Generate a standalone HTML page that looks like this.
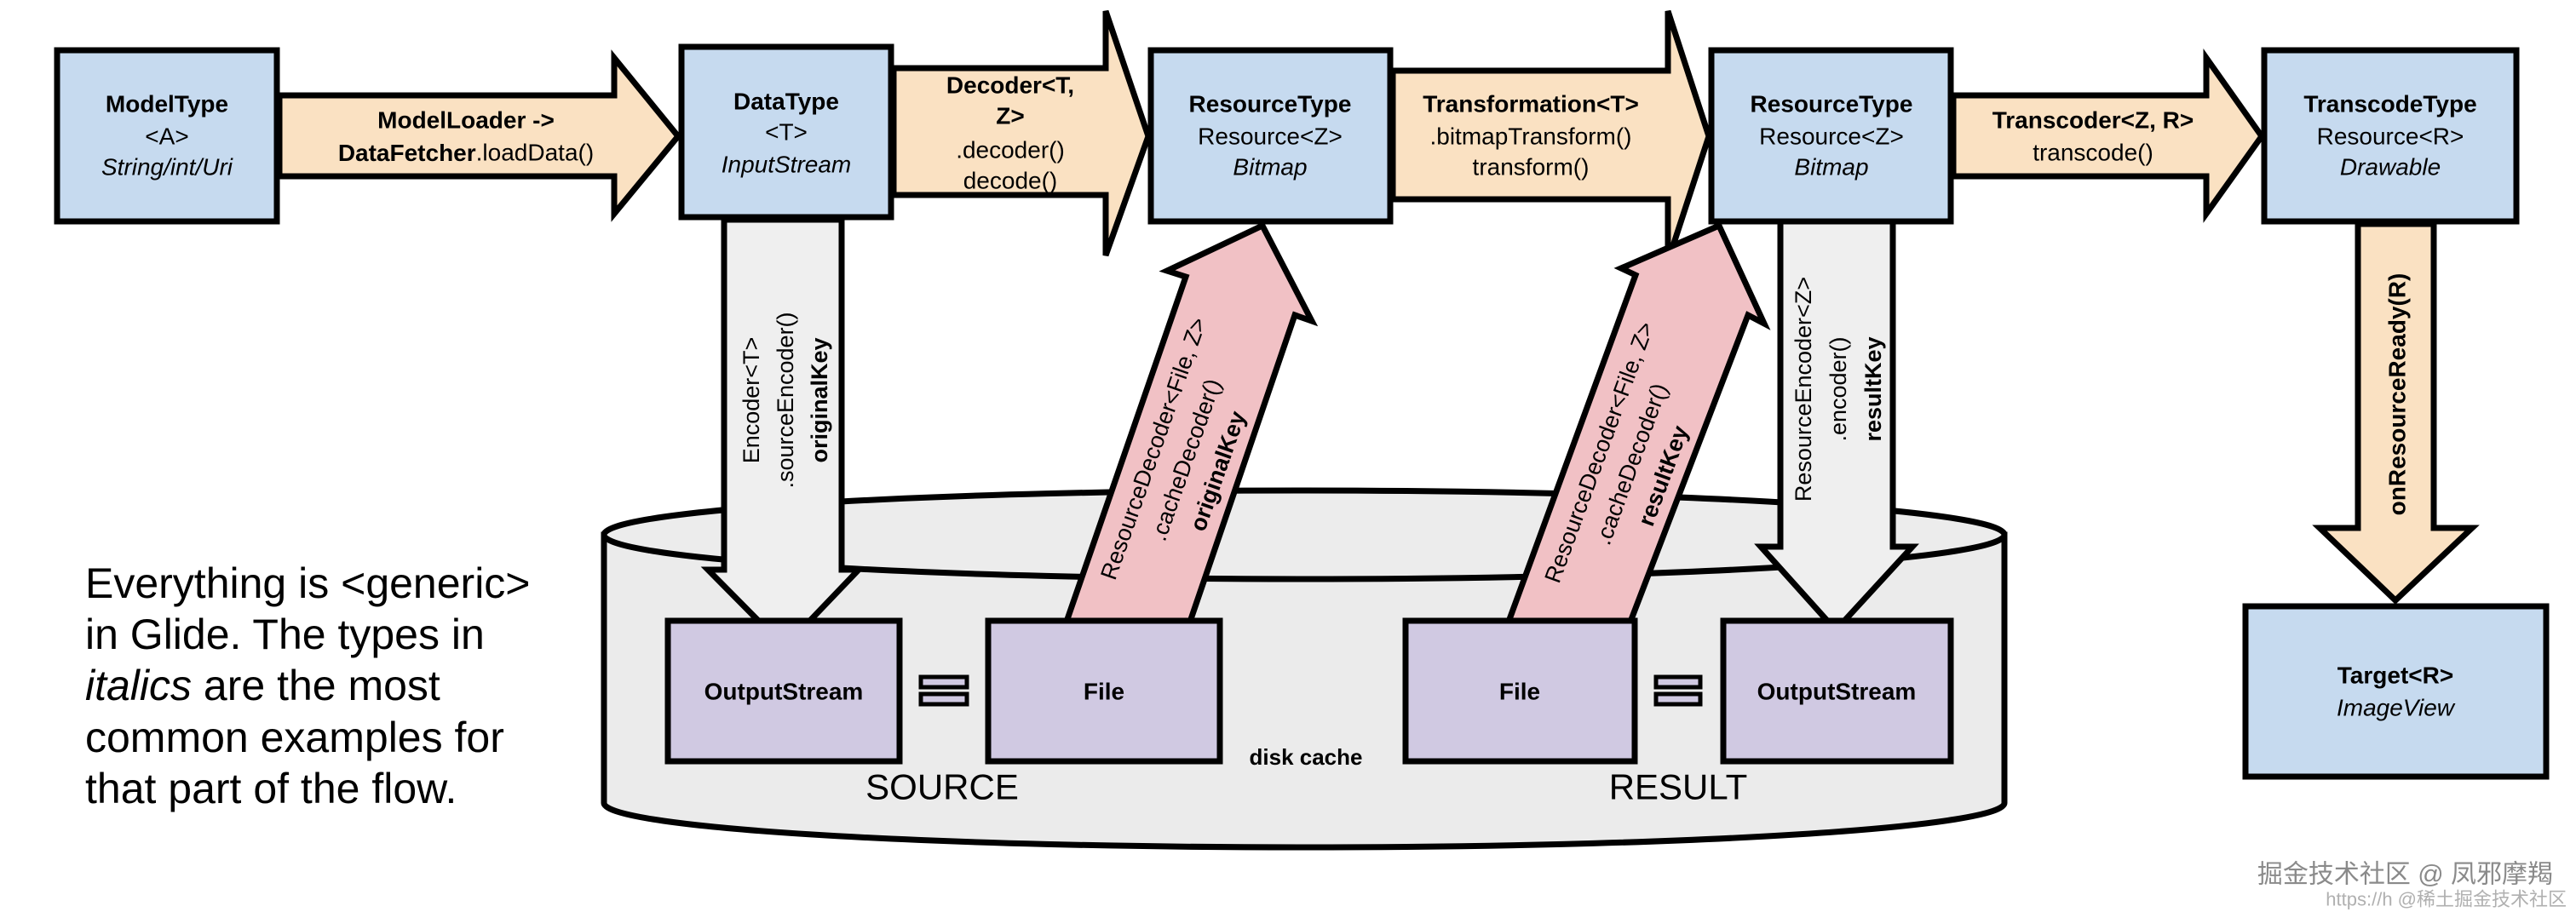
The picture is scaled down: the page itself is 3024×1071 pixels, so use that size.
<!DOCTYPE html>
<html><head><meta charset="utf-8"><style>
html,body{margin:0;padding:0;background:#fff;}
svg{display:block;}
text{font-family:"Liberation Sans",Arial,sans-serif;fill:#000;}
</style></head><body>
<svg width="3024" height="1071" viewBox="0 0 3024 1071" xmlns="http://www.w3.org/2000/svg">
<!-- cylinder -->
<path d="M709,628 L709,943 A822,52 0 0 0 2353,943 L2353,628 Z" fill="#ebebeb" stroke="#000" stroke-width="7"/>
<ellipse cx="1531" cy="628" rx="822" ry="52" fill="#ececec" stroke="#000" stroke-width="7"/>

<!-- horizontal arrows -->
<g stroke="#000" stroke-width="7" stroke-linejoin="miter" fill="#fae1c2">
<polygon points="328,112 721,112 721,68 796,160 721,251 721,207 328,207"/>
<polygon points="1049,80 1298,80 1298,13 1348,160 1298,300 1298,229 1049,229"/>
<polygon points="1635,83 1958,83 1958,13 2006,160 1958,307 1958,234 1635,234"/>
<polygon points="2293,112 2590,112 2590,68 2655,160 2590,251 2590,207 2293,207"/>
<polygon points="2768,263 2857,263 2857,620 2902,620 2812,705 2723,620 2768,620"/>
</g>
<!-- grey down arrows -->
<g stroke="#000" stroke-width="7" fill="#efefef">
<polygon points="850,258 988,258 988,669 1008,669 921,760 831,669 850,669"/>
<polygon points="2090,258 2222,258 2222,642 2245,642 2155,740 2067,642 2090,642"/>
</g>
<!-- pink arrows -->
<g stroke="#000" stroke-width="7" fill="#f1c1c5" stroke-linejoin="miter">
<polygon points="1252,730 1392,325 1370,318 1482,265 1540,377 1520,370 1397,730"/>
<polygon points="1771,730 1920,323 1903,315 2018,265 2071,380 2052,370 1914,730"/>
</g>

<!-- blue boxes -->
<g stroke="#000" stroke-width="7" fill="#c6daef">
<rect x="67" y="59" width="258" height="201"/>
<rect x="800" y="55" width="246" height="200"/>
<rect x="1351" y="59" width="281" height="201"/>
<rect x="2009" y="59" width="281" height="201"/>
<rect x="2658" y="59" width="296" height="201"/>
<rect x="2636" y="712" width="353" height="200"/>
</g>
<!-- purple boxes -->
<g stroke="#000" stroke-width="7" fill="#d0c9e2">
<rect x="784" y="729" width="272" height="165"/>
<rect x="1160" y="729" width="272" height="165"/>
<rect x="1650" y="729" width="269" height="165"/>
<rect x="2023" y="729" width="267" height="165"/>
</g>
<!-- equals signs -->
<g stroke="#000" stroke-width="5" fill="#d0c9e2">
<rect x="1081" y="795" width="54" height="12"/>
<rect x="1081" y="815" width="54" height="12"/>
<rect x="1944" y="795" width="52" height="12"/>
<rect x="1944" y="815" width="52" height="12"/>
</g>

<!-- box texts -->
<g font-size="28" text-anchor="middle" dominant-baseline="central">
<text x="196" y="122" font-weight="bold">ModelType</text>
<text x="196" y="160">&lt;A&gt;</text>
<text x="196" y="196" font-style="italic">String/int/Uri</text>

<text x="923" y="119" font-weight="bold">DataType</text>
<text x="923" y="155">&lt;T&gt;</text>
<text x="923" y="193" font-style="italic">InputStream</text>

<text x="1491" y="122" font-weight="bold">ResourceType</text>
<text x="1491" y="160">Resource&lt;Z&gt;</text>
<text x="1491" y="196" font-style="italic">Bitmap</text>

<text x="2150" y="122" font-weight="bold">ResourceType</text>
<text x="2150" y="160">Resource&lt;Z&gt;</text>
<text x="2150" y="196" font-style="italic">Bitmap</text>

<text x="2806" y="122" font-weight="bold">TranscodeType</text>
<text x="2806" y="160">Resource&lt;R&gt;</text>
<text x="2806" y="196" font-style="italic">Drawable</text>

<text x="2812" y="793" font-weight="bold">Target&lt;R&gt;</text>
<text x="2812" y="831" font-style="italic">ImageView</text>

<text x="547" y="141" font-weight="bold">ModelLoader -&gt;</text>
<text x="547" y="179"><tspan font-weight="bold">DataFetcher</tspan>.loadData()</text>

<text x="1186" y="100" font-weight="bold">Decoder&lt;T,</text>
<text x="1186" y="136" font-weight="bold">Z&gt;</text>
<text x="1186" y="176">.decoder()</text>
<text x="1186" y="212">decode()</text>

<text x="1797" y="122" font-weight="bold">Transformation&lt;T&gt;</text>
<text x="1797" y="160">.bitmapTransform()</text>
<text x="1797" y="196">transform()</text>

<text x="2457" y="141" font-weight="bold">Transcoder&lt;Z, R&gt;</text>
<text x="2457" y="179">transcode()</text>

<text x="920" y="812" font-weight="bold">OutputStream</text>
<text x="1296" y="812" font-weight="bold">File</text>
<text x="1784" y="812" font-weight="bold">File</text>
<text x="2156" y="812" font-weight="bold">OutputStream</text>

<text x="1533" y="889" font-weight="bold" font-size="26">disk cache</text>
<text x="1106" y="924" font-size="42">SOURCE</text>
<text x="1970" y="924" font-size="42">RESULT</text>
</g>

<!-- rotated texts -->
<g font-size="27" text-anchor="middle" dominant-baseline="central">
<g transform="translate(922,470) rotate(-90)">
<text x="0" y="-40">Encoder&lt;T&gt;</text>
<text x="0" y="0">.sourceEncoder()</text>
<text x="0" y="40" font-weight="bold">originalKey</text>
</g>
<g transform="translate(2158,457) rotate(-90)">
<text x="0" y="-41">ResourceEncoder&lt;Z&gt;</text>
<text x="0" y="0">.encoder()</text>
<text x="0" y="41" font-weight="bold">resultKey</text>
</g>
<g transform="translate(2814,463) rotate(-90)">
<text x="0" y="0" font-weight="bold" font-size="28">onResourceReady(R)</text>
</g>
<g transform="translate(1392,540) rotate(-70.6)">
<text x="0" y="-40">ResourceDecoder&lt;File, Z&gt;</text>
<text x="0" y="0">.cacheDecoder()</text>
<text x="0" y="40" font-weight="bold">originalKey</text>
</g>
<g transform="translate(1915,545) rotate(-69.8)">
<text x="0" y="-40">ResourceDecoder&lt;File, Z&gt;</text>
<text x="0" y="0">.cacheDecoder()</text>
<text x="0" y="40" font-weight="bold">resultKey</text>
</g>
</g>

<!-- left note -->
<g font-size="50" dominant-baseline="central">
<text x="100" y="685">Everything is &lt;generic&gt;</text>
<text x="100" y="745">in Glide. The types in</text>
<text x="100" y="805"><tspan font-style="italic">italics</tspan> are the most</text>
<text x="100" y="866">common examples for</text>
<text x="100" y="926">that part of the flow.</text>
</g>

<!-- watermark -->
<text x="2997" y="1027" text-anchor="end" dominant-baseline="central" font-size="30" style="font-family:'Liberation Sans','Noto Sans CJK SC',sans-serif;fill:#8a8a8a">掘金技术社区 @ 凤邪摩羯</text>
<text x="3013" y="1056" text-anchor="end" dominant-baseline="central" font-size="22" style="font-family:'Liberation Sans','Noto Sans CJK SC',sans-serif;fill:#b0b0b0">https://h @稀土掘金技术社区</text>
</svg>
</body></html>
